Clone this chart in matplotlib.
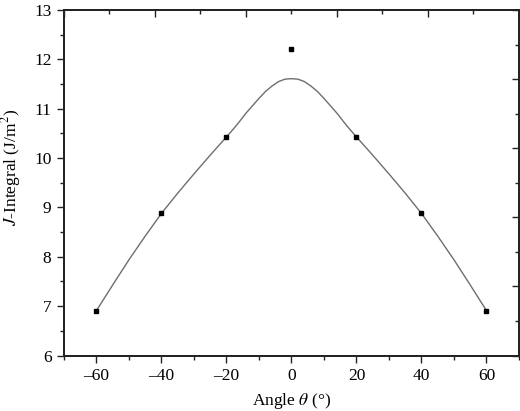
import matplotlib
matplotlib.use("Agg")
import matplotlib.pyplot as plt
from matplotlib.ticker import MultipleLocator, FixedLocator, NullFormatter

plt.rcParams["font.family"] = ["Liberation Serif", "DejaVu Serif"]
plt.rcParams["mathtext.fontset"] = "stix"

# measured points
angles = [-60, -40, -20, 0, 20, 40, 60]
j_integral = [6.91, 8.88, 10.43, 12.22, 10.43, 8.88, 6.91]

# fitted curve
fit_angles = [-60, -55, -50, -45, -40, -35, -30, -25, -20,
              -18, -16, -14, -12, -10, -8, -6, -4, -2, 0,
              2, 4, 6, 8, 10, 12, 14, 16, 18,
              20, 25, 30, 35, 40, 45, 50, 55, 60]
fit_values = [6.91, 7.43, 7.94, 8.42, 8.88, 9.29, 9.68, 10.06, 10.43,
              10.58, 10.74, 10.91, 11.06, 11.21, 11.35, 11.46, 11.55, 11.60, 11.61,
              11.60, 11.55, 11.46, 11.35, 11.21, 11.06, 10.91, 10.74, 10.58,
              10.43, 10.06, 9.68, 9.29, 8.88, 8.42, 7.94, 7.43, 6.91]

fig = plt.figure(figsize=(5.2, 4.11), dpi=100)
ax = fig.add_axes([0.123, 0.135, 0.875, 0.8405])

ax.plot(fit_angles, fit_values, color="#6e6e6e", lw=1.0, zorder=2)
ax.plot(angles, j_integral, "s", color="black", ms=3.2, zorder=3)

ax.set_xlim(-70, 70)
ax.set_ylim(6, 13)
ax.xaxis.set_major_locator(MultipleLocator(20))
ax.xaxis.set_minor_locator(MultipleLocator(10))
ax.yaxis.set_major_locator(MultipleLocator(1))
ax.yaxis.set_minor_locator(MultipleLocator(0.5))
ax.xaxis.set_major_formatter(plt.FuncFormatter(lambda v, p: f"{v:.0f}".replace("-", "\u2013")))

ax.tick_params(which="both", direction="out", top=False, right=False,
               labelsize=12.5, width=1.0, color="#222222", pad=4)
ax.tick_params(which="major", length=5)
ax.tick_params(which="minor", length=3)

for s in ax.spines.values():
    s.set_linewidth(1.1)
    s.set_color("#222222")

# top / right axes with their own ticks (inward, no labels)
axt = ax.twiny()
axt.set_xlim(-70, 70)
axt.xaxis.set_major_locator(FixedLocator([-70, -42, -14, 14, 42, 70]))
axt.xaxis.set_minor_locator(FixedLocator([-56, -28, 0, 28, 56]))
axt.xaxis.set_major_formatter(NullFormatter())
axt.tick_params(which="both", direction="in", width=1.0, color="#222222")
axt.tick_params(which="major", length=5)
axt.tick_params(which="minor", length=3)

axr = ax.twinx()
axr.set_ylim(6, 13)
axr.yaxis.set_major_locator(FixedLocator([6, 7.4, 8.8, 10.2, 11.6, 13]))
axr.yaxis.set_minor_locator(FixedLocator([6.7, 8.1, 9.5, 10.9, 12.3]))
axr.yaxis.set_major_formatter(NullFormatter())
axr.tick_params(which="both", direction="in", width=1.0, color="#222222")
axr.tick_params(which="major", length=5)
axr.tick_params(which="minor", length=3)
for a in (axt, axr):
    for s in a.spines.values():
        s.set_linewidth(1.1)
        s.set_color("#222222")

ax.set_xlabel(r"Angle $\theta$ (°)", fontsize=12.5, labelpad=5)
ax.set_ylabel(r"$J$-Integral (J/m$^2$)", fontsize=12.5)
ax.yaxis.set_label_coords(-0.09, 0.543)

fig.savefig("out.png", dpi=100)
